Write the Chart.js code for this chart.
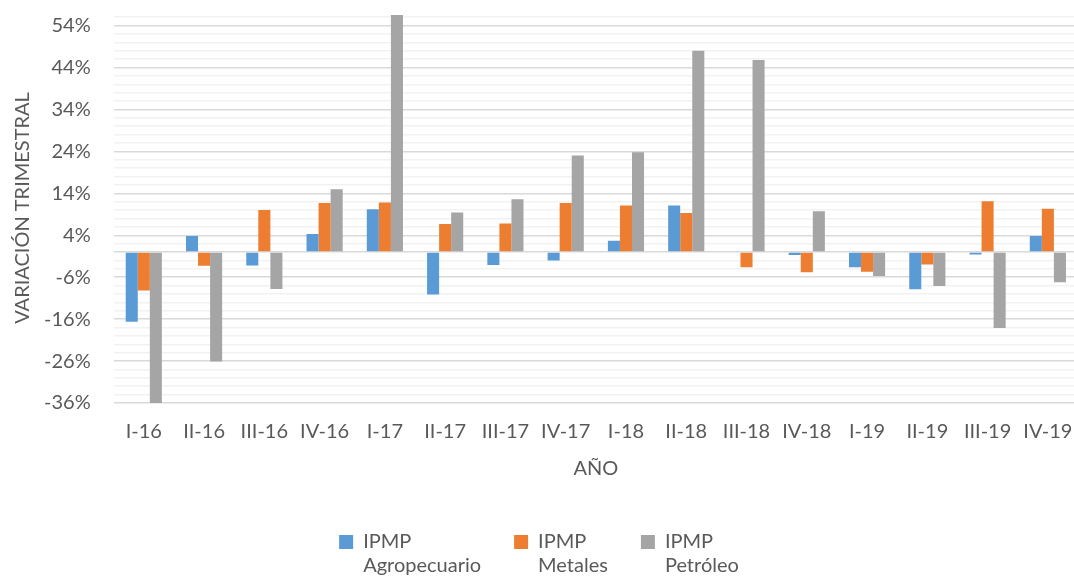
<!DOCTYPE html>
<html>
<head>
<meta charset="utf-8">
<script src="https://cdn.jsdelivr.net/npm/chart.js@4/dist/chart.umd.min.js"></script>
<style>
  html, body { margin: 0; padding: 0; background: #fff; overflow: hidden; }
  #wrap { width: 1078px; height: 579px; }
</style>
</head>
<body>
<div id="wrap"><canvas id="c"></canvas></div>
<script>
const quarters = ['I-16', 'II-16', 'III-16', 'IV-16', 'I-17', 'II-17', 'III-17', 'IV-17',
  'I-18', 'II-18', 'III-18', 'IV-18', 'I-19', 'II-19', 'III-19', 'IV-19'];

const agropecuario = [-16.6, 3.8, -3.2, 4.3, 10.2, -10.1, -3.1, -2.0, 2.7, 11.1, -0.2, -0.7, -3.6, -8.9, -0.6, 3.8];
const metales = [-9.2, -3.3, 10.0, 11.7, 11.8, 6.7, 6.8, 11.7, 11.1, 9.3, -3.6, -4.8, -4.7, -3.0, 12.1, 10.3];
const petroleo = [-36.0, -26.1, -8.8, 15.0, 56.5, 9.4, 12.6, 23.0, 23.8, 48.0, 45.8, 9.7, -5.7, -8.1, -18.1, -7.2];

const blue = '#5b9bd5';
const orange = '#ed7d31';
const grey = '#a5a5a5';
const textColor = '#595959';
const font = {family: 'Lato, "Noto Sans", sans-serif', size: 20};

const isMajor = v => (v + 36) % 10 === 0;

// legend labels wrap onto two lines; measure them by their longest line
function twoLines(text) {
  const lines = text.split(' ');
  const longest = lines.reduce((a, b) => a.length >= b.length ? a : b);
  lines.toString = () => longest;
  return lines;
}

// give the legend box room for the second line so it is not clipped
const legendRoom = {
  id: 'legendRoom',
  beforeLayout(chart) {
    const lg = chart.legend;
    if (lg && !lg._roomPatched) {
      const fit = lg.fit;
      lg.fit = function() {
        fit.call(this);
        this.height += 14;
      };
      lg._roomPatched = true;
    }
  }
};

new Chart(document.getElementById('c'), {
  type: 'bar',
  data: {
    labels: quarters,
    datasets: [
      {label: 'IPMP Agropecuario', data: agropecuario, backgroundColor: blue},
      {label: 'IPMP Metales', data: metales, backgroundColor: orange},
      {label: 'IPMP Petróleo', data: petroleo, backgroundColor: grey}
    ]
  },
  plugins: [legendRoom],
  options: {
    responsive: true,
    maintainAspectRatio: false,
    animation: false,
    layout: {padding: {top: 13, right: 0, bottom: 3, left: 0}},
    datasets: {
      bar: {categoryPercentage: 0.6, barPercentage: 1.0}
    },
    plugins: {
      tooltip: {enabled: false},
      legend: {
        position: 'bottom',
        labels: {
          color: textColor,
          font: font,
          boxWidth: 14,
          boxHeight: 14,
          padding: 33,
          generateLabels(chart) {
            const items = Chart.defaults.plugins.legend.labels.generateLabels(chart);
            items.forEach(item => { item.text = twoLines(item.text); });
            return items;
          }
        }
      }
    },
    scales: {
      x: {
        grid: {display: false, drawTicks: false},
        border: {display: false},
        ticks: {color: textColor, font: font, padding: 17, maxRotation: 0, autoSkip: false},
        title: {display: true, text: 'AÑO', color: textColor, font: font, padding: {top: -4, bottom: 18}},
        afterFit(scale) {
          scale.paddingLeft = 0;
          scale.paddingRight = 0;
        }
      },
      y: {
        min: -36,
        max: 57,
        border: {display: false},
        grid: {
          drawTicks: false,
          color: ctx => (isMajor(ctx.tick.value) || ctx.tick.value === 0) ? '#d9d9d9' : '#f2f2f2',
          lineWidth: 1.5
        },
        ticks: {
          stepSize: 2,
          includeBounds: false,
          autoSkip: false,
          color: textColor,
          font: font,
          padding: 23,
          callback: v => isMajor(v) ? v + '%' : ''
        },
        title: {display: true, text: 'VARIACIÓN TRIMESTRAL', color: textColor, font: font, padding: {top: 11, bottom: -14}},
        afterFit(scale) {
          scale.paddingTop = 0;
          scale.paddingBottom = 0;
        }
      }
    }
  }
});
</script>
</body>
</html>
